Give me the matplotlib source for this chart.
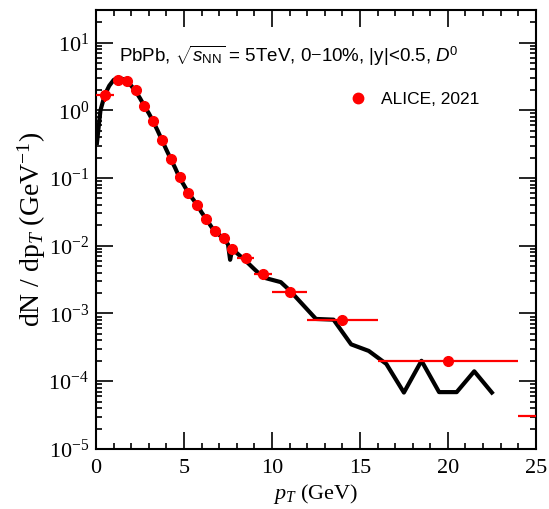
import matplotlib
matplotlib.use("Agg")
import matplotlib.pyplot as plt
import numpy as np
from matplotlib.ticker import LogLocator, MultipleLocator, NullFormatter, FixedLocator

# ~  Data

# model curve
curve_pt = [0.05, 0.25, 0.5, 0.75, 1.0, 1.25, 1.5, 1.75, 2.0, 2.25, 2.5, 2.75,
            3.0, 3.25, 3.5, 3.75, 4.0, 4.25, 4.5, 4.75, 5.0, 5.25, 5.5, 5.75,
            6.0, 6.25, 6.5, 6.75, 7.0, 7.25, 7.5, 7.62, 7.75, 8.0, 8.5, 9.0,
            9.5, 10.5, 11.0, 12.5, 13.5, 14.5, 15.5, 16.5, 17.5, 18.5, 19.5,
            20.5, 21.5, 22.5]
curve_dn = [0.33, 1.0, 1.7, 2.3, 2.8, 3.0, 2.9, 2.65, 2.3, 1.9, 1.5, 1.15,
            0.9, 0.68, 0.5, 0.36, 0.26, 0.19, 0.14, 0.10, 0.078, 0.060, 0.049, 0.040,
            0.031, 0.025, 0.020, 0.016, 0.0145, 0.0125, 0.0105, 0.0062, 0.0090, 0.0078, 0.0060, 0.0045,
            0.0034, 0.0029, 0.0022, 8.3e-4, 8.1e-4, 3.5e-4, 2.8e-4, 1.8e-4, 6.8e-5, 2.0e-4, 6.9e-5,
            6.9e-5, 1.4e-4, 6.8e-5]

# ALICE 2021 D0 data
alice_pt = [0.5, 1.25, 1.75, 2.25, 2.75, 3.25, 3.75, 4.25, 4.75, 5.25, 5.75,
            6.25, 6.75, 7.25, 7.75, 8.5, 9.5, 11.0, 14.0, 20.0, 28.0]
alice_pt_err = [0.5, 0.25, 0.25, 0.25, 0.25, 0.25, 0.25, 0.25, 0.25, 0.25, 0.25,
                0.25, 0.25, 0.25, 0.25, 0.5, 0.5, 1.0, 2.0, 4.0, 4.0]
alice_dn = [1.66, 2.83, 2.73, 1.97, 1.17, 0.69, 0.358, 0.192, 0.105, 0.0596, 0.0405,
            0.0247, 0.0166, 0.0128, 0.0090, 0.0065, 0.0038, 0.0021, 8.1e-4, 1.96e-4, 3.1e-5]
alice_dn_err = [0.35] + [0.0] * 20

y_major = [1e-5, 1e-4, 1e-3, 1e-2, 1e-1, 1e0, 1e1]

# -------------------------------------------------------------------------------- #

plt.rcParams['mathtext.fontset'] = 'custom'
plt.rcParams['mathtext.rm'] = 'Liberation Serif'
plt.rcParams['mathtext.it'] = 'Liberation Serif:italic'
plt.rcParams['mathtext.sf'] = 'Liberation Sans'
plt.rcParams['mathtext.bf'] = 'Liberation Sans:italic'

fig = plt.figure(figsize=(5.49, 5.09), dpi=100)
ax = fig.add_axes([0.175, 0.118, 0.801, 0.862])

ax.plot(curve_pt, curve_dn, color='black', lw=3, zorder=2)
ax.errorbar(alice_pt, alice_dn, xerr=alice_pt_err, yerr=alice_dn_err, fmt='o',
            color='red', ms=7, elinewidth=1.6, capsize=0, zorder=3)
# legend handle (marker only)
ax.plot([], [], 'o', color='red', ms=7.5, label='ALICE, 2021')

ax.set_yscale('log')
ax.set_xlim(0, 25)
ax.set_ylim(1e-5, 30)

ax.xaxis.set_major_locator(MultipleLocator(5))
ax.xaxis.set_minor_locator(MultipleLocator(1))
ax.yaxis.set_major_locator(FixedLocator(y_major))
ax.yaxis.set_minor_locator(LogLocator(base=10, subs=np.arange(2, 10), numticks=20))
ax.yaxis.set_minor_formatter(NullFormatter())

ax.tick_params(which='both', direction='in', top=True, right=True, width=1.2)
ax.tick_params(which='major', length=12, labelsize=16, pad=5)
ax.tick_params(axis='x', which='major', pad=7)
ax.tick_params(which='minor', length=4)
for lab in ax.get_xticklabels() + ax.get_yticklabels():
    lab.set_family('Liberation Serif')
for s in ax.spines.values():
    s.set_linewidth(1.5)

ax.set_xlabel(r'$p_T$ (GeV)', fontsize=16, family='Liberation Serif', labelpad=3)
ax.set_ylabel(r'dN / dp$_T$ (GeV$^{-1}$)', fontsize=20, family='Liberation Serif', labelpad=0)

ax.text(0.052, 0.895,
        r'PbPb, $\sqrt{\mathbf{s}_{\mathsf{NN}}}$ = 5TeV, 0$-$10%, |y|<0.5, $\mathbf{D}^{\mathsf{0}}$',
        transform=ax.transAxes, fontsize=13.5, family='Liberation Sans', va='center')

leg = ax.legend(loc='center left', bbox_to_anchor=(0.56, 0.797), frameon=False,
                handlelength=1.0, handletextpad=0.8, borderaxespad=0,
                prop={'family': 'Liberation Sans', 'size': 12.5})

fig.savefig('out.png', dpi=100)
